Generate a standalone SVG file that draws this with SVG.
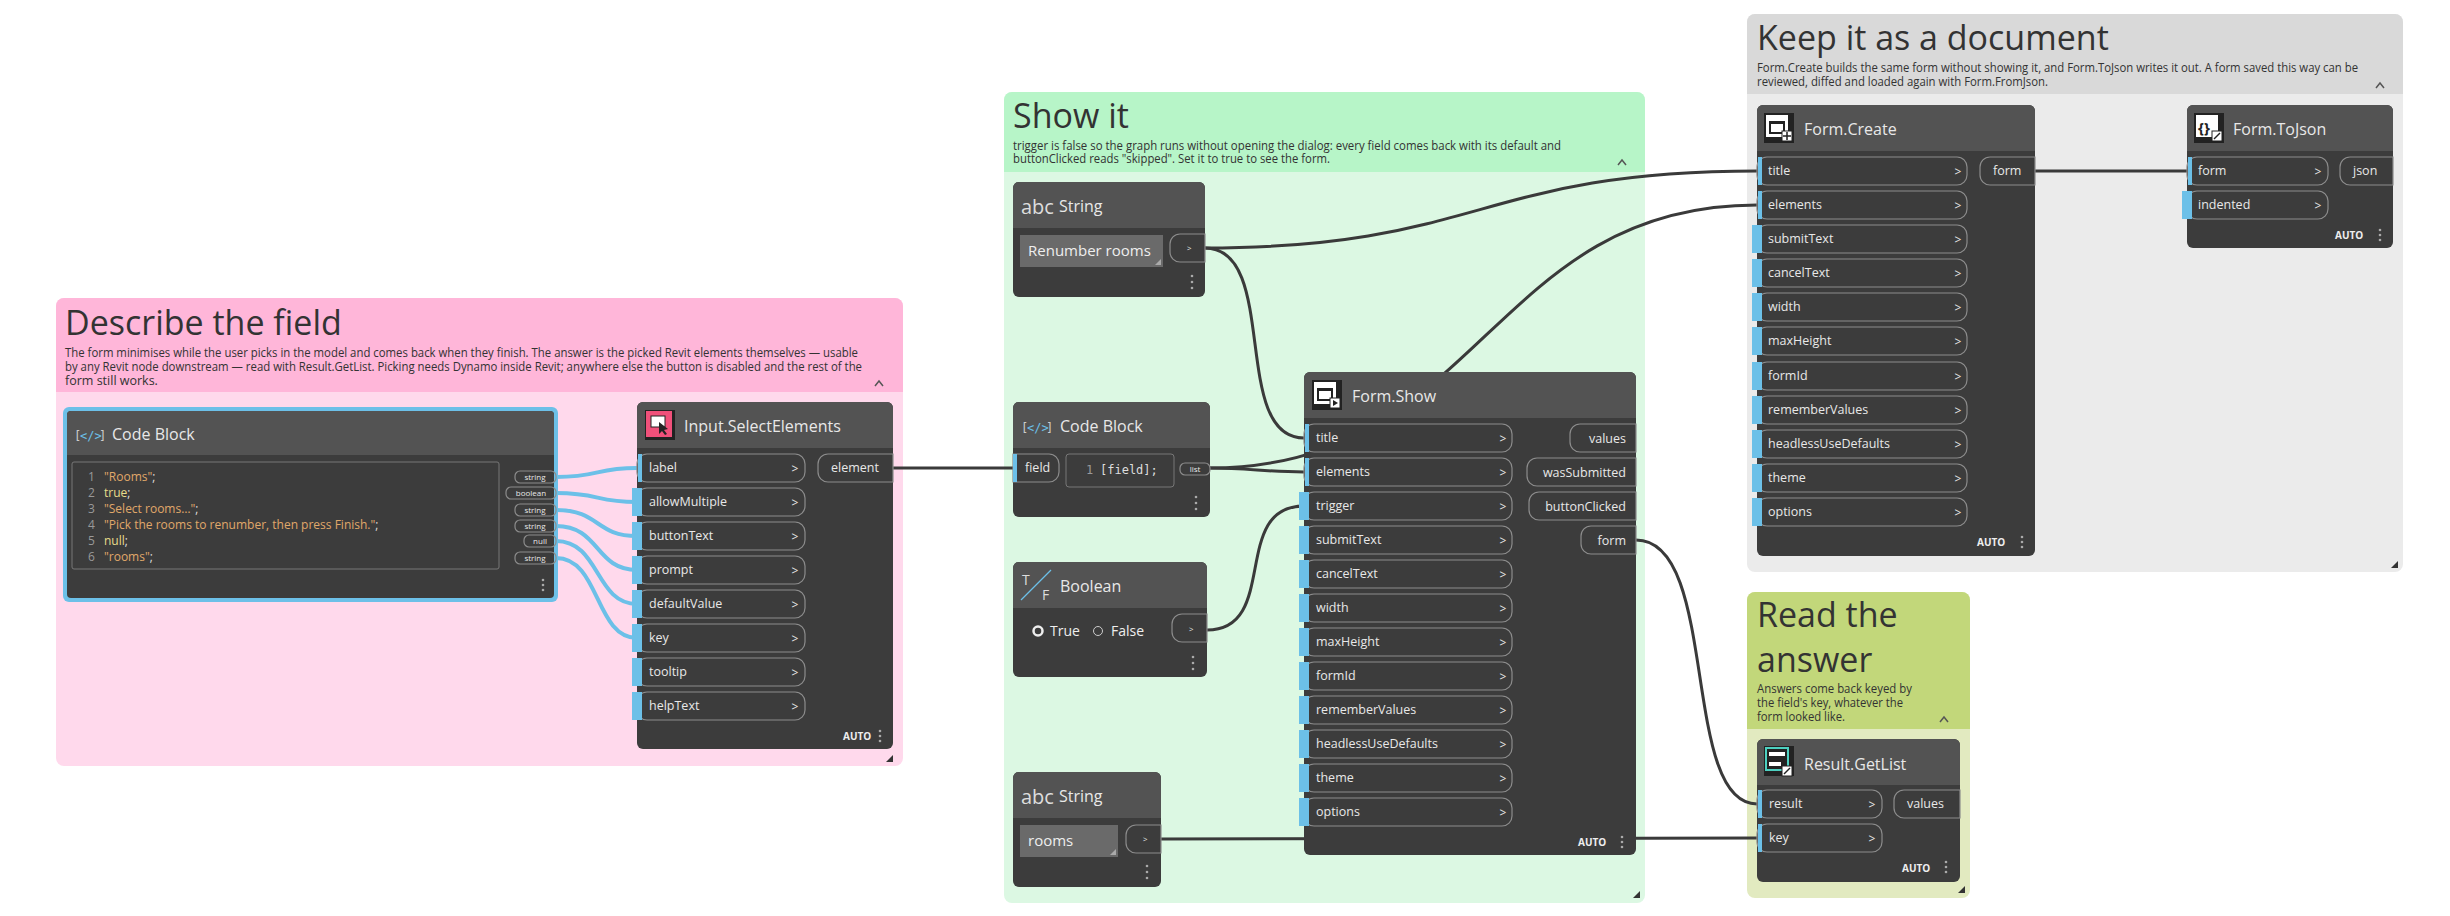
<svg xmlns="http://www.w3.org/2000/svg" width="2450" height="916" viewBox="0 0 2450 916">
<style>
text{font-family:"Open Sans","Noto Sans",sans-serif}
.gt{font-size:34px;fill:#333}
.gd{font-size:12.5px;fill:#333}
.nb{fill:#3c3c3c}
.nh{fill:#535353}
.nt{font-size:16px;fill:#e8e8e8}
.pill{fill:none;stroke:#8c8c8c;stroke-width:1.2}
.pt{font-size:12.5px;fill:#e8e8e8}
.ar{font-size:12px;fill:#e8e8e8}
.bar{fill:#6cc0e8}
.auto{font-size:10px;fill:#eee;font-weight:bold}
.dot{fill:#aaa}
.w{fill:none;stroke:#3a3a3a;stroke-width:3}
.wb{fill:none;stroke:#6cc0e8;stroke-width:4}
.code{font-family:"DejaVu Sans Mono","Liberation Mono",monospace;font-size:12px}
.sm{font-size:8px;fill:#e8e8e8}
</style>

<g id="group-describe">
<rect x="56" y="298" width="847" height="468" rx="8" fill="#ffd9ec"/>
<path d="M64 298H895a8 8 0 0 1 8 8V392H56V306a8 8 0 0 1 8-8z" fill="#ffb6d9"/>
<text class="gt" x="65" y="335">Describe the field</text>
<text class="gd" x="65" y="357" textLength="793" lengthAdjust="spacingAndGlyphs">The form minimises while the user picks in the model and comes back when they finish. The answer is the picked Revit elements themselves — usable</text>
<text class="gd" x="65" y="371" textLength="797" lengthAdjust="spacingAndGlyphs">by any Revit node downstream — read with Result.GetList. Picking needs Dynamo inside Revit; anywhere else the button is disabled and the rest of the</text>
<text class="gd" x="65" y="385">form still works.</text>
<path d="M875 386l4-5 4 5" fill="none" stroke="#555" stroke-width="1.5"/>
<path d="M893 755l-7 7h7z" fill="#333"/>
</g>
<g id="group-show">
<rect x="1004" y="92" width="641" height="811" rx="8" fill="#dcf8e3"/>
<path d="M1012 92H1637a8 8 0 0 1 8 8V172H1004V100a8 8 0 0 1 8-8z" fill="#b7f5c8"/>
<text class="gt" x="1013" y="128">Show it</text>
<text class="gd" x="1013" y="150" textLength="548" lengthAdjust="spacingAndGlyphs">trigger is false so the graph runs without opening the dialog: every field comes back with its default and</text>
<text class="gd" x="1013" y="163" textLength="317" lengthAdjust="spacingAndGlyphs">buttonClicked reads "skipped". Set it to true to see the form.</text>
<path d="M1618 165l4-5 4 5" fill="none" stroke="#555" stroke-width="1.5"/>
<path d="M1640 891l-7 7h7z" fill="#333"/>
</g>
<g id="group-keep">
<rect x="1747" y="14" width="656" height="558" rx="8" fill="#ebebeb"/>
<path d="M1755 14H2395a8 8 0 0 1 8 8V94H1747V22a8 8 0 0 1 8-8z" fill="#d9d9d9"/>
<text class="gt" x="1757" y="50">Keep it as a document</text>
<text class="gd" x="1757" y="72" textLength="601" lengthAdjust="spacingAndGlyphs">Form.Create builds the same form without showing it, and Form.ToJson writes it out. A form saved this way can be</text>
<text class="gd" x="1757" y="86" textLength="291" lengthAdjust="spacingAndGlyphs">reviewed, diffed and loaded again with Form.FromJson.</text>
<path d="M2376 88l4-5 4 5" fill="none" stroke="#555" stroke-width="1.5"/>
<path d="M2398 561l-7 7h7z" fill="#333"/>
</g>
<g id="group-read">
<rect x="1747" y="592" width="223" height="306" rx="8" fill="#e2eac0"/>
<path d="M1755 592H1962a8 8 0 0 1 8 8V729H1747V600a8 8 0 0 1 8-8z" fill="#c2d77a"/>
<text class="gt" x="1757" y="627">Read the</text>
<text class="gt" x="1757" y="672">answer</text>
<text class="gd" x="1757" y="693" textLength="155" lengthAdjust="spacingAndGlyphs">Answers come back keyed by</text>
<text class="gd" x="1757" y="707" textLength="146" lengthAdjust="spacingAndGlyphs">the field's key, whatever the</text>
<text class="gd" x="1757" y="721" textLength="88" lengthAdjust="spacingAndGlyphs">form looked like.</text>
<path d="M1940 722l4-5 4 5" fill="none" stroke="#555" stroke-width="1.5"/>
<path d="M1965 886l-7 7h7z" fill="#333"/>
</g>

<g id="connectors">
<path class="wb" d="M556 477C600 477 595 468 637 468"/>
<path class="wb" d="M556 493C600 493 595 502 637 502"/>
<path class="wb" d="M556 510C600 510 595 536 637 536"/>
<path class="wb" d="M556 526C600 526 595 570 637 570"/>
<path class="wb" d="M556 541C600 541 595 604 637 604"/>
<path class="wb" d="M556 558C600 558 595 638 637 638"/>
<path class="w" d="M893 468C950 468 956 468 1013 468"/>
<path class="w" d="M1205 248C1280 248 1230 438 1304 438"/>
<path class="w" d="M1205 248C1480 248 1480 171 1757 171"/>
<path class="w" d="M1210 468C1250 468 1264 472 1304 472"/>
<path class="w" d="M1210 468C1480 468 1490 205 1757 205"/>
<path class="w" d="M1207 630C1280 630 1230 506 1304 506"/>
<path class="w" d="M1161 839C1460 839 1460 838 1757 838"/>
<path class="w" d="M1636 540C1720 540 1680 804 1757 804"/>
<path class="w" d="M2035 171C2110 171 2110 171 2187 171"/>
</g>

<g id="node-codeblock1">
<rect x="63" y="407" width="495" height="195" rx="6" fill="#6cc0e8"/>
<rect x="67" y="411" width="487" height="187" rx="4" class="nb"/>
<path d="M71 411H550a4 4 0 0 1 4 4V455H67V415a4 4 0 0 1 4-4z" class="nh"/>
<text x="74" y="440" font-size="14" fill="#ccc" class="code">[</text><text x="80" y="440" font-size="13" fill="#6cc0e8" class="code">&lt;/&gt;</text><text x="99" y="440" font-size="14" fill="#ccc" class="code">]</text>
<text class="nt" x="112" y="440">Code Block</text>
<rect x="72" y="462" width="427" height="107" rx="2" fill="none" stroke="#777"/>
<g class="code" fill="#999">
<text x="88" y="481">1</text><text x="88" y="497">2</text><text x="88" y="513">3</text><text x="88" y="529">4</text><text x="88" y="545">5</text><text x="88" y="561">6</text>
</g>
<g class="code">
<text x="104" y="481"><tspan fill="#e0a86a">"Rooms"</tspan><tspan fill="#ddd">;</tspan></text>
<text x="104" y="497" fill="#e8dc8a">true<tspan fill="#ddd">;</tspan></text>
<text x="104" y="513"><tspan fill="#e0a86a">"Select rooms…"</tspan><tspan fill="#ddd">;</tspan></text>
<text x="104" y="529"><tspan fill="#e0a86a">"Pick the rooms to renumber, then press Finish."</tspan><tspan fill="#ddd">;</tspan></text>
<text x="104" y="545" fill="#e8dc8a">null<tspan fill="#ddd">;</tspan></text>
<text x="104" y="561"><tspan fill="#e0a86a">"rooms"</tspan><tspan fill="#ddd">;</tspan></text>
</g>
<rect x="515" y="471" width="41" height="12" rx="5" class="pill"/><text class="sm" x="535" y="480" text-anchor="middle">string</text>
<rect x="506" y="487" width="50" height="12" rx="5" class="pill"/><text class="sm" x="531" y="496" text-anchor="middle">boolean</text>
<rect x="515" y="504" width="41" height="12" rx="5" class="pill"/><text class="sm" x="535" y="513" text-anchor="middle">string</text>
<rect x="515" y="520" width="41" height="12" rx="5" class="pill"/><text class="sm" x="535" y="529" text-anchor="middle">string</text>
<rect x="524" y="535" width="32" height="12" rx="5" class="pill"/><text class="sm" x="540" y="544" text-anchor="middle">null</text>
<rect x="515" y="552" width="41" height="12" rx="5" class="pill"/><text class="sm" x="535" y="561" text-anchor="middle">string</text>
<circle cx="543" cy="580" r="1.3" class="dot"/><circle cx="543" cy="585" r="1.3" class="dot"/><circle cx="543" cy="590" r="1.3" class="dot"/>
</g>

<g id="node-selectelements">
<rect x="637" y="402" width="256" height="347" rx="6" class="nb"/>
<path d="M643 402H887a6 6 0 0 1 6 6V448H637V408a6 6 0 0 1 6-6z" class="nh"/>
<rect x="645" y="410" width="30" height="30" fill="#222"/><rect x="646" y="411" width="26" height="26" fill="#f0507a"/>
<rect x="651" y="416" width="14" height="11" fill="#fff" stroke="#222"/><path d="M659 422l0 12 3-3 3 4 2-1-3-4 4-1z" fill="#222"/>
<text class="nt" x="684" y="432">Input.SelectElements</text>
<g class="pt">
<text x="649" y="472">label</text><text x="649" y="506">allowMultiple</text><text x="649" y="540">buttonText</text><text x="649" y="574">prompt</text><text x="649" y="608">defaultValue</text><text x="649" y="642">key</text><text x="649" y="676">tooltip</text><text x="649" y="710">helpText</text>
</g>
<g class="pill">
<rect x="637" y="454" width="168" height="28" rx="10"/><rect x="637" y="488" width="168" height="28" rx="10"/><rect x="637" y="522" width="168" height="28" rx="10"/><rect x="637" y="556" width="168" height="28" rx="10"/><rect x="637" y="590" width="168" height="28" rx="10"/><rect x="637" y="624" width="168" height="28" rx="10"/><rect x="637" y="658" width="168" height="28" rx="10"/><rect x="637" y="692" width="168" height="28" rx="10"/>
</g>
<g class="ar" text-anchor="middle">
<text x="795" y="473">&gt;</text><text x="795" y="507">&gt;</text><text x="795" y="541">&gt;</text><text x="795" y="575">&gt;</text><text x="795" y="609">&gt;</text><text x="795" y="643">&gt;</text><text x="795" y="677">&gt;</text><text x="795" y="711">&gt;</text>
</g>
<rect class="bar" x="638" y="454" width="4" height="28"/>
<rect class="bar" x="632" y="488" width="10" height="28"/><rect class="bar" x="632" y="522" width="10" height="28"/><rect class="bar" x="632" y="556" width="10" height="28"/><rect class="bar" x="632" y="590" width="10" height="28"/><rect class="bar" x="632" y="624" width="10" height="28"/><rect class="bar" x="632" y="658" width="10" height="28"/><rect class="bar" x="632" y="692" width="10" height="28"/>
<path d="M828 454H893V482H828a10 10 0 0 1-10-10V464a10 10 0 0 1 10-10z" class="pill"/>
<text class="pt" x="831" y="472">element</text>
<text class="auto" x="843" y="740">AUTO</text>
<circle cx="880" cy="731" r="1.3" class="dot"/><circle cx="880" cy="736" r="1.3" class="dot"/><circle cx="880" cy="741" r="1.3" class="dot"/>
</g>

<g id="node-string1">
<rect x="1013" y="182" width="192" height="115" rx="6" class="nb"/>
<path d="M1019 182H1199a6 6 0 0 1 6 6V228H1013V188a6 6 0 0 1 6-6z" class="nh"/>
<text x="1021" y="214" font-size="20" fill="#ddd">abc</text>
<text class="nt" x="1059" y="212">String</text>
<rect x="1020" y="235" width="143" height="32" fill="#6a6a6a"/>
<text x="1028" y="256" font-size="15" fill="#eee">Renumber rooms</text>
<path d="M1161 259l-6 6h6z" fill="#aaa"/>
<path d="M1180 234H1205V262H1180a10 10 0 0 1-10-10V244a10 10 0 0 1 10-10z" class="pill"/>
<text class="sm" x="1187" y="251" font-size="9">&gt;</text>
<circle cx="1192" cy="276" r="1.3" class="dot"/><circle cx="1192" cy="282" r="1.3" class="dot"/><circle cx="1192" cy="288" r="1.3" class="dot"/>
</g>

<g id="node-codeblock2">
<rect x="1013" y="402" width="197" height="115" rx="6" class="nb"/>
<path d="M1019 402H1204a6 6 0 0 1 6 6V448H1013V408a6 6 0 0 1 6-6z" class="nh"/>
<text x="1021" y="432" font-size="14" fill="#ccc" class="code">[</text><text x="1027" y="432" font-size="13" fill="#6cc0e8" class="code">&lt;/&gt;</text><text x="1046" y="432" font-size="14" fill="#ccc" class="code">]</text>
<text class="nt" x="1060" y="432">Code Block</text>
<path d="M1013 454H1049a10 10 0 0 1 10 10V472a10 10 0 0 1-10 10H1013z" class="pill"/>
<rect class="bar" x="1013" y="454" width="4" height="28"/>
<text class="pt" x="1025" y="472">field</text>
<rect x="1066" y="454" width="108" height="33" rx="3" fill="none" stroke="#777"/>
<text class="code" x="1086" y="474" fill="#999">1</text><text class="code" x="1100" y="474" fill="#ddd" font-size="13">[field];</text>
<rect x="1180" y="463" width="30" height="12" rx="5" class="pill"/><text class="sm" x="1195" y="472" text-anchor="middle">list</text>
<circle cx="1196" cy="497" r="1.3" class="dot"/><circle cx="1196" cy="503" r="1.3" class="dot"/><circle cx="1196" cy="509" r="1.3" class="dot"/>
</g>

<g id="node-boolean">
<rect x="1013" y="562" width="194" height="115" rx="6" class="nb"/>
<path d="M1019 562H1201a6 6 0 0 1 6 6V608H1013V568a6 6 0 0 1 6-6z" class="nh"/>
<text x="1022" y="585" font-size="14" fill="#ddd">T</text><path d="M1021 600L1051 570" stroke="#6cc0e8" stroke-width="1.2"/><text x="1042" y="600" font-size="14" fill="#ddd">F</text>
<text class="nt" x="1060" y="592">Boolean</text>
<circle cx="1038" cy="631" r="4.5" fill="none" stroke="#eee" stroke-width="2.5"/>
<text x="1050" y="636" font-size="14" fill="#eee">True</text>
<circle cx="1098" cy="631" r="4.5" fill="none" stroke="#ccc" stroke-width="1"/>
<text x="1111" y="636" font-size="14" fill="#eee">False</text>
<path d="M1182 614H1207V642H1182a10 10 0 0 1-10-10V624a10 10 0 0 1 10-10z" class="pill"/>
<text class="sm" x="1189" y="632" font-size="9">&gt;</text>
<circle cx="1193" cy="657" r="1.3" class="dot"/><circle cx="1193" cy="663" r="1.3" class="dot"/><circle cx="1193" cy="669" r="1.3" class="dot"/>
</g>

<g id="node-string2">
<rect x="1013" y="772" width="148" height="115" rx="6" class="nb"/>
<path d="M1019 772H1155a6 6 0 0 1 6 6V818H1013V778a6 6 0 0 1 6-6z" class="nh"/>
<text x="1021" y="804" font-size="20" fill="#ddd">abc</text>
<text class="nt" x="1059" y="802">String</text>
<rect x="1020" y="825" width="98" height="32" fill="#6a6a6a"/>
<text x="1028" y="846" font-size="15" fill="#eee">rooms</text>
<path d="M1116 849l-6 6h6z" fill="#aaa"/>
<path d="M1136 825H1161V853H1136a10 10 0 0 1-10-10V835a10 10 0 0 1 10-10z" class="pill"/>
<text class="sm" x="1143" y="842" font-size="9">&gt;</text>
<circle cx="1147" cy="866" r="1.3" class="dot"/><circle cx="1147" cy="872" r="1.3" class="dot"/><circle cx="1147" cy="878" r="1.3" class="dot"/>
</g>

<g id="node-formshow">
<rect x="1304" y="372" width="332" height="483" rx="6" class="nb"/>
<path d="M1310 372H1630a6 6 0 0 1 6 6V418H1304V378a6 6 0 0 1 6-6z" class="nh"/>
<rect x="1312" y="380" width="30" height="30" fill="#222"/><rect x="1314" y="382" width="22" height="22" fill="#fff"/><rect x="1317" y="388" width="16" height="13" fill="#222"/><rect x="1319" y="391" width="12" height="8" fill="#fff"/><rect x="1330" y="398" width="10" height="10" fill="#fff" stroke="#222"/><path d="M1333 400l5 3-5 3z" fill="#222"/>
<text class="nt" x="1352" y="402">Form.Show</text>
<g class="pill">
<rect x="1304" y="424" width="208" height="28" rx="10"/><rect x="1304" y="458" width="208" height="28" rx="10"/><rect x="1304" y="492" width="208" height="28" rx="10"/><rect x="1304" y="526" width="208" height="28" rx="10"/><rect x="1304" y="560" width="208" height="28" rx="10"/><rect x="1304" y="594" width="208" height="28" rx="10"/><rect x="1304" y="628" width="208" height="28" rx="10"/><rect x="1304" y="662" width="208" height="28" rx="10"/><rect x="1304" y="696" width="208" height="28" rx="10"/><rect x="1304" y="730" width="208" height="28" rx="10"/><rect x="1304" y="764" width="208" height="28" rx="10"/><rect x="1304" y="798" width="208" height="28" rx="10"/>
</g>
<g class="pt">
<text x="1316" y="442">title</text><text x="1316" y="476">elements</text><text x="1316" y="510">trigger</text><text x="1316" y="544">submitText</text><text x="1316" y="578">cancelText</text><text x="1316" y="612">width</text><text x="1316" y="646">maxHeight</text><text x="1316" y="680">formId</text><text x="1316" y="714">rememberValues</text><text x="1316" y="748">headlessUseDefaults</text><text x="1316" y="782">theme</text><text x="1316" y="816">options</text>
</g>
<g class="ar" text-anchor="middle">
<text x="1503" y="443">&gt;</text><text x="1503" y="477">&gt;</text><text x="1503" y="511">&gt;</text><text x="1503" y="545">&gt;</text><text x="1503" y="579">&gt;</text><text x="1503" y="613">&gt;</text><text x="1503" y="647">&gt;</text><text x="1503" y="681">&gt;</text><text x="1503" y="715">&gt;</text><text x="1503" y="749">&gt;</text><text x="1503" y="783">&gt;</text><text x="1503" y="817">&gt;</text>
</g>
<rect class="bar" x="1305" y="424" width="4" height="28"/><rect class="bar" x="1305" y="458" width="4" height="28"/>
<rect class="bar" x="1299" y="492" width="10" height="28"/><rect class="bar" x="1299" y="526" width="10" height="28"/><rect class="bar" x="1299" y="560" width="10" height="28"/><rect class="bar" x="1299" y="594" width="10" height="28"/><rect class="bar" x="1299" y="628" width="10" height="28"/><rect class="bar" x="1299" y="662" width="10" height="28"/><rect class="bar" x="1299" y="696" width="10" height="28"/><rect class="bar" x="1299" y="730" width="10" height="28"/><rect class="bar" x="1299" y="764" width="10" height="28"/><rect class="bar" x="1299" y="798" width="10" height="28"/>
<path d="M1580 424H1636V452H1580a10 10 0 0 1-10-10V434a10 10 0 0 1 10-10z" class="pill"/>
<path d="M1537 458H1636V486H1537a10 10 0 0 1-10-10V468a10 10 0 0 1 10-10z" class="pill"/>
<path d="M1539 492H1636V520H1539a10 10 0 0 1-10-10V502a10 10 0 0 1 10-10z" class="pill"/>
<path d="M1591 526H1636V554H1591a10 10 0 0 1-10-10V536a10 10 0 0 1 10-10z" class="pill"/>
<g class="pt" text-anchor="end">
<text x="1626" y="443">values</text><text x="1626" y="477">wasSubmitted</text><text x="1626" y="511">buttonClicked</text><text x="1626" y="545">form</text>
</g>
<text class="auto" x="1578" y="846">AUTO</text>
<circle cx="1622" cy="837" r="1.3" class="dot"/><circle cx="1622" cy="842" r="1.3" class="dot"/><circle cx="1622" cy="847" r="1.3" class="dot"/>
</g>

<g id="node-formcreate">
<rect x="1757" y="105" width="278" height="451" rx="6" class="nb"/>
<path d="M1763 105H2029a6 6 0 0 1 6 6V151H1757V111a6 6 0 0 1 6-6z" class="nh"/>
<rect x="1764" y="113" width="30" height="30" fill="#222"/><rect x="1766" y="115" width="22" height="22" fill="#fff"/><rect x="1769" y="121" width="16" height="13" fill="#222"/><rect x="1771" y="124" width="12" height="8" fill="#fff"/><rect x="1782" y="131" width="10" height="10" fill="#fff" stroke="#222"/><path d="M1787 132v8M1783 136h8" stroke="#222" stroke-width="1.5"/>
<text class="nt" x="1804" y="135">Form.Create</text>
<g class="pill">
<rect x="1757" y="157" width="210" height="28" rx="10"/><rect x="1757" y="191" width="210" height="28" rx="10"/><rect x="1757" y="225" width="210" height="28" rx="10"/><rect x="1757" y="259" width="210" height="28" rx="10"/><rect x="1757" y="293" width="210" height="28" rx="10"/><rect x="1757" y="327" width="210" height="28" rx="10"/><rect x="1757" y="362" width="210" height="28" rx="10"/><rect x="1757" y="396" width="210" height="28" rx="10"/><rect x="1757" y="430" width="210" height="28" rx="10"/><rect x="1757" y="464" width="210" height="28" rx="10"/><rect x="1757" y="498" width="210" height="28" rx="10"/>
</g>
<g class="pt">
<text x="1768" y="175">title</text><text x="1768" y="209">elements</text><text x="1768" y="243">submitText</text><text x="1768" y="277">cancelText</text><text x="1768" y="311">width</text><text x="1768" y="345">maxHeight</text><text x="1768" y="380">formId</text><text x="1768" y="414">rememberValues</text><text x="1768" y="448">headlessUseDefaults</text><text x="1768" y="482">theme</text><text x="1768" y="516">options</text>
</g>
<g class="ar" text-anchor="middle">
<text x="1958" y="176">&gt;</text><text x="1958" y="210">&gt;</text><text x="1958" y="244">&gt;</text><text x="1958" y="278">&gt;</text><text x="1958" y="312">&gt;</text><text x="1958" y="346">&gt;</text><text x="1958" y="381">&gt;</text><text x="1958" y="415">&gt;</text><text x="1958" y="449">&gt;</text><text x="1958" y="483">&gt;</text><text x="1958" y="517">&gt;</text>
</g>
<rect class="bar" x="1758" y="157" width="4" height="28"/><rect class="bar" x="1758" y="191" width="4" height="28"/>
<rect class="bar" x="1752" y="225" width="10" height="28"/><rect class="bar" x="1752" y="259" width="10" height="28"/><rect class="bar" x="1752" y="293" width="10" height="28"/><rect class="bar" x="1752" y="327" width="10" height="28"/><rect class="bar" x="1752" y="362" width="10" height="28"/><rect class="bar" x="1752" y="396" width="10" height="28"/><rect class="bar" x="1752" y="430" width="10" height="28"/><rect class="bar" x="1752" y="464" width="10" height="28"/><rect class="bar" x="1752" y="498" width="10" height="28"/>
<path d="M1990 157H2035V185H1990a10 10 0 0 1-10-10V167a10 10 0 0 1 10-10z" class="pill"/>
<text class="pt" x="1993" y="175">form</text>
<text class="auto" x="1977" y="546">AUTO</text>
<circle cx="2022" cy="537" r="1.3" class="dot"/><circle cx="2022" cy="542" r="1.3" class="dot"/><circle cx="2022" cy="547" r="1.3" class="dot"/>
</g>

<g id="node-formtojson">
<rect x="2187" y="105" width="206" height="143" rx="6" class="nb"/>
<path d="M2193 105H2387a6 6 0 0 1 6 6V151H2187V111a6 6 0 0 1 6-6z" class="nh"/>
<rect x="2194" y="113" width="30" height="30" fill="#222"/><rect x="2196" y="115" width="22" height="22" fill="#fff"/>
<text x="2198" y="133" font-size="15" font-weight="bold" fill="#222">{}</text>
<rect x="2212" y="131" width="10" height="10" fill="#fff" stroke="#222"/><path d="M2214 139l6-6" stroke="#222" stroke-width="1.5"/>
<text class="nt" x="2233" y="135">Form.ToJson</text>
<rect x="2187" y="157" width="141" height="28" rx="10" class="pill"/><rect x="2187" y="191" width="141" height="28" rx="10" class="pill"/>
<rect class="bar" x="2188" y="157" width="4" height="28"/><rect class="bar" x="2182" y="191" width="10" height="28"/>
<text class="pt" x="2198" y="175">form</text><text class="pt" x="2198" y="209">indented</text>
<text class="ar" x="2318" y="176" text-anchor="middle">&gt;</text><text class="ar" x="2318" y="210" text-anchor="middle">&gt;</text>
<path d="M2350 157H2393V185H2350a10 10 0 0 1-10-10V167a10 10 0 0 1 10-10z" class="pill"/>
<text class="pt" x="2353" y="175">json</text>
<text class="auto" x="2335" y="239">AUTO</text>
<circle cx="2380" cy="230" r="1.3" class="dot"/><circle cx="2380" cy="235" r="1.3" class="dot"/><circle cx="2380" cy="240" r="1.3" class="dot"/>
</g>

<g id="node-resultgetlist">
<rect x="1757" y="739" width="203" height="143" rx="6" class="nb"/>
<path d="M1763 739H1954a6 6 0 0 1 6 6V785H1757V745a6 6 0 0 1 6-6z" class="nh"/>
<rect x="1764" y="746" width="30" height="30" fill="#222"/><rect x="1766" y="748" width="22" height="22" fill="#222" stroke="#4dd0c0" stroke-width="2"/><rect x="1769" y="752" width="16" height="4" fill="#fff"/><rect x="1769" y="762" width="12" height="4" fill="#fff"/><rect x="1782" y="766" width="10" height="10" fill="#fff" stroke="#222"/><path d="M1784 774l6-6" stroke="#222" stroke-width="1.5"/>
<text class="nt" x="1804" y="770">Result.GetList</text>
<rect x="1757" y="790" width="125" height="28" rx="10" class="pill"/><rect x="1757" y="824" width="125" height="28" rx="10" class="pill"/>
<rect class="bar" x="1758" y="790" width="4" height="28"/><rect class="bar" x="1758" y="824" width="4" height="28"/>
<text class="pt" x="1769" y="808">result</text><text class="pt" x="1769" y="842">key</text>
<text class="ar" x="1872" y="809" text-anchor="middle">&gt;</text><text class="ar" x="1872" y="843" text-anchor="middle">&gt;</text>
<path d="M1904 790H1960V818H1904a10 10 0 0 1-10-10V800a10 10 0 0 1 10-10z" class="pill"/>
<text class="pt" x="1907" y="808">values</text>
<text class="auto" x="1902" y="872">AUTO</text>
<circle cx="1946" cy="862" r="1.3" class="dot"/><circle cx="1946" cy="867" r="1.3" class="dot"/><circle cx="1946" cy="872" r="1.3" class="dot"/>
</g>
</svg>
